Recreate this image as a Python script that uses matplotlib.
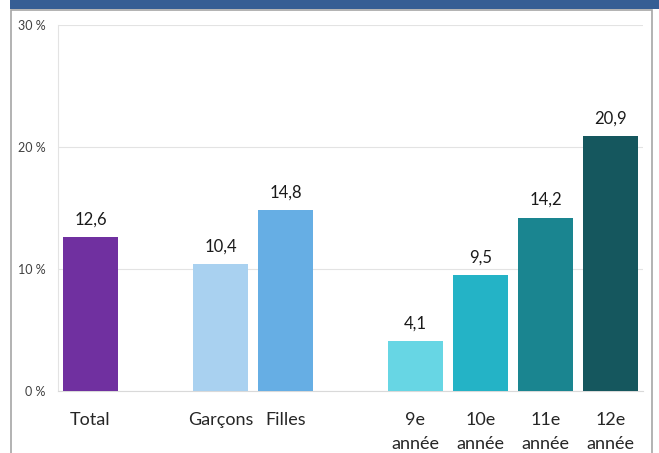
import matplotlib
matplotlib.use("Agg")
import matplotlib.pyplot as plt
from matplotlib.patches import Rectangle

categories = ["Total", "", "Garçons", "Filles", "", "9e\nannée", "10e\nannée", "11e\nannée", "12e\nannée"]
values = [12.6, None, 10.4, 14.8, None, 4.1, 9.5, 14.2, 20.9]
colors = ["#7030A0", None, "#A9D1F0", "#66AEE4", None, "#67D6E4", "#24B3C6", "#1A8590", "#15575E"]
yticks = [0, 10, 20, 30]
ytick_labels = ["0 %", "10 %", "20 %", "30 %"]

plt.rcParams['font.family'] = ['Lato', 'DejaVu Sans']

fig = plt.figure(figsize=(6.59, 4.53), dpi=100)
W, H = 659, 453
# header band and frame
fig.patches.append(Rectangle((10 / W, 1 - 9 / H), 1 - 10 / W, 9 / H, transform=fig.transFigure,
                             facecolor="#365E94", edgecolor="none", zorder=-2))
fig.patches.append(Rectangle((11 / W, -0.01), (652 - 11) / W, 1 - 10 / H + 0.01, transform=fig.transFigure,
                             facecolor="white", edgecolor="#A6A6A6", linewidth=1.2, zorder=-2))

ax = fig.add_axes([58 / W, 1 - 391 / H, (643 - 58) / W, (391 - 25) / H])
ax.set_zorder(2)
ax.set_facecolor("none")
xs = list(range(len(categories)))
for x, v, c in zip(xs, values, colors):
    if v is None:
        continue
    ax.bar(x, v, width=55 / 65, color=c, zorder=3)
    ax.text(x, v + 0.8, f"{v:.1f}".replace(".", ","), ha="center", va="bottom",
            fontsize=12, color="#1a1a1a", zorder=4)

ax.set_xlim(-0.5, len(categories) - 0.5)
ax.set_ylim(0, 30)
ax.set_yticks(yticks)
ax.set_yticklabels(ytick_labels, fontsize=9, color="#404040")
ax.set_xticks(xs)
ax.set_xticklabels(categories, fontsize=13, color="#262626", linespacing=1.65, va="top")
ax.tick_params(axis="x", length=0, pad=15)
ax.tick_params(axis="y", length=0, pad=9)
ax.grid(axis="y", color="#E3E3E3", linewidth=0.8, zorder=0)
for s in ["top", "right"]:
    ax.spines[s].set_visible(False)
ax.spines["left"].set_color("#E3E3E3")
ax.spines["bottom"].set_color("#D9D9D9")

fig.savefig("out.png", dpi=100)
